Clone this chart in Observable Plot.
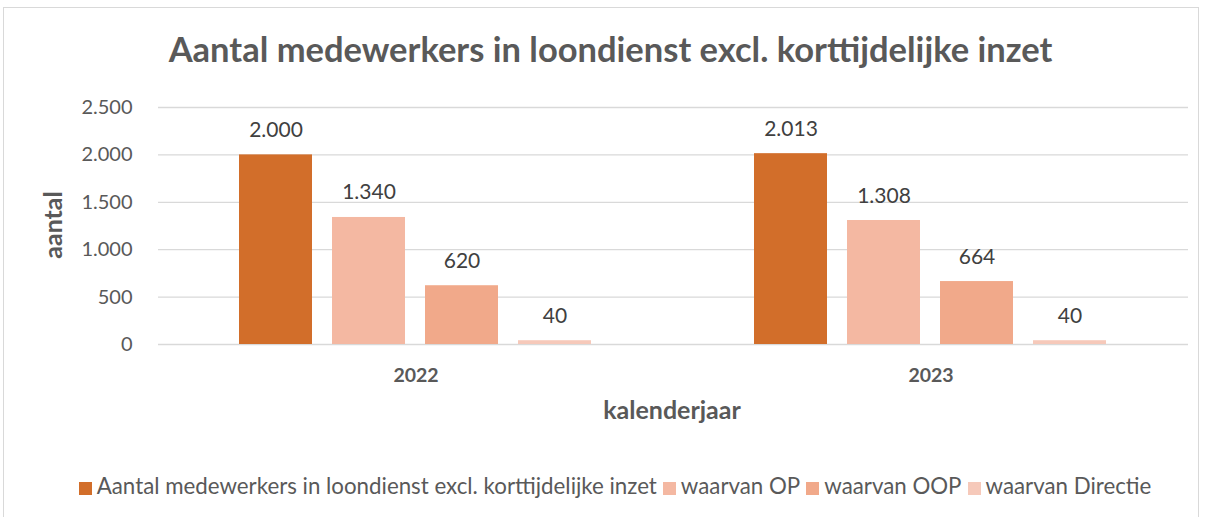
<!DOCTYPE html>
<html>
<head>
<meta charset="utf-8">
<script src="https://cdn.jsdelivr.net/npm/d3@7"></script>
<script src="https://cdn.jsdelivr.net/npm/@observablehq/plot@0.6"></script>
<style>
  html, body { margin: 0; padding: 0; background: #fff; width: 1213px; height: 517px; overflow: hidden; }
  #frame { position: absolute; left: 3px; top: 7px; width: 1196px; height: 520px; border: 1px solid #d9d9d9; box-sizing: border-box; }
  #title { position: absolute; left: 4px; top: 28px; width: 1213px; text-align: center; font-family: Lato, sans-serif; font-weight: bold; font-size: 34.5px; color: #595959; white-space: nowrap; }
  #chart { position: absolute; left: 0; top: 87px; }
  #legend { position: absolute; left: 0; top: 472px; width: 1230px; text-align: center; font-family: Lato, sans-serif; font-size: 22.3px; color: #595959; white-space: nowrap; }
  .item { display: inline-block; margin: 0 3px; }
  .sw { display: inline-block; width: 13px; height: 13px; margin-right: 5px; vertical-align: -1px; }
</style>
</head>
<body>
<div id="frame"></div>
<div id="title">Aantal medewerkers in loondienst excl. korttijdelijke inzet</div>
<div id="chart"></div>
<div id="legend"></div>
<script>
const years = ["2022", "2023"];
const seriesNames = ["Aantal medewerkers in loondienst excl. korttijdelijke inzet", "waarvan OP", "waarvan OOP", "waarvan Directie"];
const seriesColors = ["#D26E2A", "#F4B8A2", "#F1A98A", "#F6C9BA"];
const values2022 = [2000, 1340, 620, 40];
const values2023 = [2013, 1308, 664, 40];
const yTicks = [0, 500, 1000, 1500, 2000, 2500];

const nl = d3.formatLocale({decimal: ",", thousands: ".", grouping: [3], currency: ["€", ""]});
const fmt = nl.format(",d");

const data = [];
years.forEach((yr, i) => {
  const vals = i === 0 ? values2022 : values2023;
  seriesNames.forEach((s, j) => data.push({year: yr, series: s, value: vals[j]}));
});

const chart = Plot.plot({
  width: 1213,
  height: 345,
  marginTop: 20,
  marginBottom: 88,
  marginLeft: 158,
  marginRight: 25,
  style: {fontFamily: "Lato, sans-serif", background: "transparent"},
  fx: {domain: years, padding: 0, label: null},
  x: {domain: seriesNames, paddingInner: 0.21, paddingOuter: 0.853, axis: null},
  y: {domain: [0, 2500], ticks: yTicks, label: null},
  color: {domain: seriesNames, range: seriesColors},
  marks: [
    Plot.gridY(yTicks, {stroke: "#d9d9d9", strokeOpacity: 1, strokeWidth: 1.3}),
    Plot.axisY(yTicks, {tickSize: 0, tickPadding: 26, tickFormat: fmt, fontSize: 20, color: "#595959", label: null}),
    Plot.barY(data, {fx: "year", x: "series", y: "value", fill: "series"}),
    Plot.text(data, {fx: "year", x: "series", y: "value", text: d => fmt(d.value), lineAnchor: "bottom", dy: -18, fontSize: 21, fill: "#404040"}),
    Plot.axisFx({anchor: "bottom", tickSize: 0, tickPadding: 24, fontSize: 19.5, fontWeight: "bold", color: "#595959", label: null})
  ]
});
document.getElementById("chart").appendChild(chart);

// axis titles added into the SVG as real text
const svg = d3.select(chart);
svg.append("text").attr("x", 0).attr("y", 0)
  .attr("transform", "translate(56,138) rotate(-90)")
  .attr("text-anchor", "middle").attr("dominant-baseline", "middle")
  .attr("font-family", "Lato, sans-serif").attr("font-size", 25).attr("font-weight", "bold").attr("fill", "#595959")
  .text("aantal");
svg.append("text").attr("x", 672).attr("y", 326)
  .attr("text-anchor", "middle").attr("dominant-baseline", "middle")
  .attr("font-family", "Lato, sans-serif").attr("font-size", 25).attr("font-weight", "bold").attr("fill", "#595959")
  .text("kalenderjaar");

const legend = document.getElementById("legend");
seriesNames.forEach((s, i) => {
  const it = document.createElement("span");
  it.className = "item";
  const sw = document.createElement("span");
  sw.className = "sw";
  sw.style.background = seriesColors[i];
  it.appendChild(sw);
  it.appendChild(document.createTextNode(s));
  legend.appendChild(it);
});
</script>
</body>
</html>
